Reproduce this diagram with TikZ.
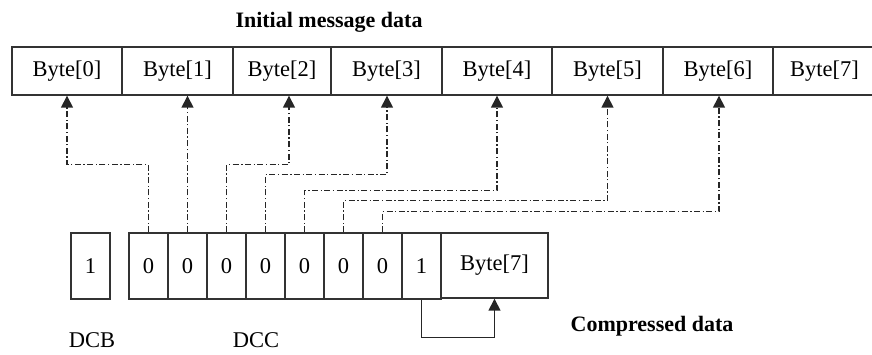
\documentclass[tikz,border=0pt]{standalone}
\usepackage{fontspec}
\setmainfont{Liberation Serif}
\usetikzlibrary{arrows.meta}
\begin{document}
\begin{tikzpicture}[x=1pt,y=-1pt,
  txt/.style={font=\fontsize{22.5}{25}\selectfont},
  cell/.style={txt,draw=black!80,line width=1.4pt,inner sep=0pt},
  topcell/.style={cell,minimum height=48pt},
  bitcell/.style={cell,minimum width=39pt,minimum height=66pt},
  ttl/.style={font=\fontsize{22}{25}\selectfont\bfseries,anchor=base},
  lbl/.style={txt,anchor=base},
  dd/.style={draw=black!85,line width=1.5pt,dash pattern=on 6pt off 2.5pt on 1.3pt off 2.5pt,-{Triangle[width=12pt,length=12pt]}},
  sl/.style={draw=black!85,line width=1.5pt,-{Triangle[width=12pt,length=12pt]}}]
\useasboundingbox (0,0) rectangle (872,354);

% top row
\node[topcell,minimum width=110pt] (b0) at (67,71) {Byte[0]};
\node[topcell,minimum width=111pt] (b1) at (177.5,71) {Byte[1]};
\node[topcell,minimum width=98pt]  (b2) at (282,71) {Byte[2]};
\node[topcell,minimum width=111pt] (b3) at (386.5,71) {Byte[3]};
\node[topcell,minimum width=110pt] (b4) at (497,71) {Byte[4]};
\node[topcell,minimum width=111pt] (b5) at (607.5,71) {Byte[5]};
\node[topcell,minimum width=110pt] (b6) at (718,71) {Byte[6]};
\node[topcell,minimum width=103pt] (b7) at (824.5,71) {Byte[7]};

% bottom row
\node[bitcell] (dcb) at (90.5,266) {1};
\node[bitcell] (c1) at (148.5,266) {0};
\node[bitcell] (c2) at (187.5,266) {0};
\node[bitcell] (c3) at (226.5,266) {0};
\node[bitcell] (c4) at (265.5,266) {0};
\node[bitcell] (c5) at (304.5,266) {0};
\node[bitcell] (c6) at (343.5,266) {0};
\node[bitcell] (c7) at (382.5,266) {0};
\node[bitcell] (c8) at (421.5,266) {1};
\node[cell,minimum width=107pt,minimum height=65pt] (cb7) at (494.5,265.5) {Byte[7]};

% labels
\node[ttl] (t1) at (329,27) {Initial message data};
\node[ttl] (t2) at (652,331) {Compressed data};
\node[lbl] (l1) at (92,347) {DCB};
\node[lbl] (l2) at (256,347) {DCC};

% dash-dot connectors
\draw[dd] (c1.north) |- ([yshift=-69pt]b0.south) -- (b0.south);
\draw[dd] (c2.north) -- (c2.north |- b1.south);
\draw[dd] (c3.north) |- ([xshift=7pt,yshift=-69pt]b2.south) -- ([xshift=7pt]b2.south);
\draw[dd] (c4.north) |- ([xshift=0.5pt,yshift=-79pt]b3.south) -- ([xshift=0.5pt]b3.south);
\draw[dd] (c5.north) |- ([yshift=-95pt]b4.south) -- (b4.south);
\draw[dd] (c6.north) |- ([yshift=-105pt]b5.south) -- (b5.south);
\draw[dd] (c7.north) |- ([xshift=1pt,yshift=-116pt]b6.south) -- ([xshift=1pt]b6.south);

% solid connector
\draw[sl] (c8.south) -- ++(0,38) -| (cb7.south);
\end{tikzpicture}
\end{document}
